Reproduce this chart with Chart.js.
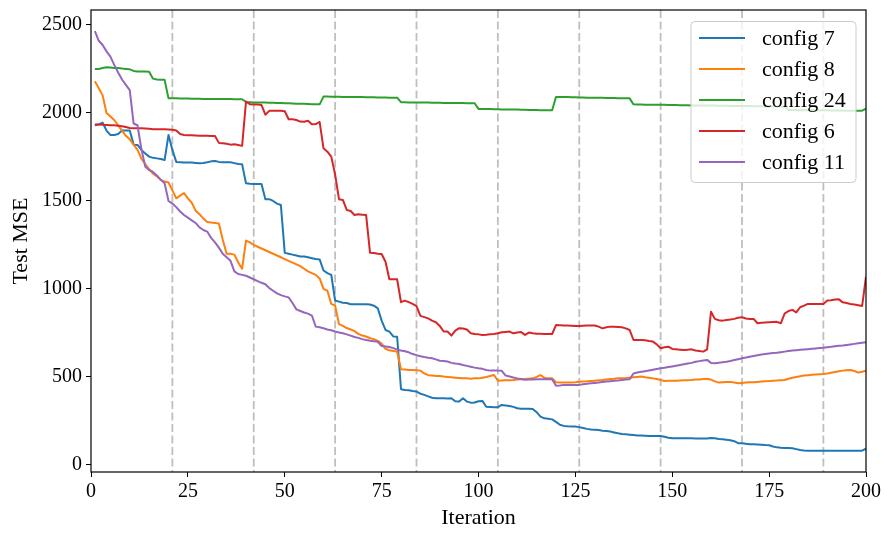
<!DOCTYPE html>
<html>
<head>
<meta charset="utf-8">
<script src="https://cdn.jsdelivr.net/npm/chart.js@4.4.1/dist/chart.umd.min.js"></script>
<style>
  html, body { margin: 0; padding: 0; background: #fff; }
  #wrap { width: 892px; height: 539px; }
</style>
</head>
<body>
<div id="wrap"><canvas id="chart" width="892" height="539"></canvas></div>
<script>
// Test MSE per iteration, 5 configs (iterations 1..200)
const seriesNames = ['config 7', 'config 8', 'config 24', 'config 6', 'config 11'];

const config7 = [
  1930, 1935, 1945, 1900, 1875, 1875, 1880, 1900, 1900, 1900,
  1820, 1818, 1790, 1770, 1752, 1745, 1742, 1738, 1733, 1875,
  1790, 1722, 1720, 1718, 1718, 1718, 1716, 1714, 1716, 1720,
  1725, 1727, 1722, 1720, 1720, 1720, 1715, 1710, 1708, 1600,
  1598, 1597, 1597, 1597, 1510, 1510, 1500, 1485, 1477, 1205,
  1200, 1195, 1190, 1184, 1184, 1180, 1175, 1170, 1168, 1105,
  1090, 1080, 934, 928, 922, 920, 913, 913, 913, 913,
  913, 912, 905, 890, 820, 767, 758, 730, 729, 430,
  426, 425, 420, 417, 405, 398, 390, 382, 379, 379,
  379, 378, 379, 362, 360, 379, 360, 354, 355, 362,
  364, 331, 330, 328, 328, 341, 338, 335, 330, 322,
  320, 320, 319, 318, 300, 275, 265, 262, 259, 245,
  228, 222, 220, 219, 218, 215, 210, 205, 202, 200,
  198, 195, 193, 190, 185, 180, 176, 174, 172, 170,
  168, 167, 166, 165, 165, 165, 165, 160, 155, 152,
  152, 152, 152, 152, 152, 151, 150, 150, 150, 153,
  152, 148, 146, 143, 140, 135, 124, 123, 120, 118,
  117, 116, 115, 113, 112, 105, 100, 98, 97, 96,
  95, 90, 85, 82, 81, 81, 81, 81, 81, 81,
  81, 81, 81, 81, 81, 81, 81, 81, 81, 93
];

const config8 = [
  2180, 2140, 2100, 2000, 1980, 1960, 1930, 1900, 1870, 1850,
  1820, 1790, 1740, 1710, 1680, 1655, 1640, 1620, 1610, 1605,
  1560, 1515, 1530, 1545, 1515, 1490, 1445, 1425, 1400, 1380,
  1377, 1375, 1372, 1280, 1200, 1200, 1195, 1150, 1115, 1275,
  1265, 1250, 1240, 1230, 1220, 1210, 1200, 1190, 1180, 1170,
  1160, 1150, 1140, 1130, 1115, 1100, 1090, 1080, 1060, 1000,
  990, 915, 905, 800, 790, 778, 770, 760, 745, 735,
  730, 720, 715, 705, 690, 660, 652, 648, 644, 544,
  542, 540, 540, 538, 536, 520, 510, 508, 506, 505,
  502, 500, 498, 496, 494, 492, 492, 490, 492, 492,
  496, 500, 505, 511, 479, 480, 481, 482, 483, 485,
  487, 488, 490, 492, 500, 511, 495, 492, 492, 470,
  468, 468, 468, 468, 470, 473, 474, 475, 477, 479,
  481, 483, 486, 489, 490, 492, 493, 494, 496, 498,
  500, 502, 498, 495, 492, 488, 483, 477, 478, 479,
  479, 480, 481, 482, 483, 485, 486, 488, 489, 485,
  475, 468, 470, 471, 472, 468, 464, 466, 468, 470,
  470, 472, 474, 476, 477, 479, 480, 482, 483, 490,
  496, 500, 504, 508, 510, 512, 514, 516, 517, 520,
  524, 528, 532, 536, 538, 540, 534, 525, 530, 536
];

const config24 = [
  2250, 2250, 2255, 2260, 2258, 2256, 2255, 2252, 2250, 2248,
  2239, 2236, 2235, 2235, 2234, 2195, 2190, 2189, 2188, 2083,
  2083, 2083, 2082, 2082, 2082, 2081, 2081, 2081, 2080, 2080,
  2080, 2080, 2079, 2079, 2079, 2079, 2078, 2078, 2078, 2062,
  2061, 2060, 2060, 2059, 2059, 2058, 2058, 2057, 2056, 2055,
  2055, 2054, 2053, 2053, 2052, 2051, 2050, 2050, 2049, 2093,
  2093, 2092, 2092, 2092, 2091, 2091, 2091, 2090, 2090, 2090,
  2089, 2089, 2089, 2088, 2088, 2088, 2087, 2087, 2087, 2061,
  2061, 2060, 2060, 2060, 2059, 2059, 2059, 2058, 2058, 2058,
  2057, 2057, 2057, 2056, 2056, 2056, 2055, 2055, 2055, 2023,
  2023, 2022, 2022, 2021, 2021, 2020, 2020, 2019, 2019, 2019,
  2018, 2018, 2017, 2017, 2017, 2016, 2016, 2015, 2015, 2091,
  2091, 2090, 2090, 2089, 2089, 2088, 2088, 2087, 2087, 2087,
  2086, 2086, 2085, 2085, 2085, 2084, 2084, 2083, 2083, 2049,
  2048, 2048, 2047, 2047, 2047, 2046, 2046, 2046, 2045, 2045,
  2045, 2044, 2044, 2044, 2043, 2043, 2043, 2042, 2042, 2042,
  2042, 2041, 2041, 2041, 2040, 2040, 2040, 2039, 2039, 2039,
  2038, 2038, 2038, 2037, 2037, 2037, 2036, 2036, 2036, 2017,
  2017, 2017, 2016, 2016, 2016, 2016, 2015, 2015, 2015, 2015,
  2014, 2014, 2014, 2014, 2013, 2013, 2013, 2013, 2013, 2025
];

const config6 = [
  1935, 1935, 1933, 1932, 1930, 1930, 1928, 1925, 1920, 1915,
  1913, 1913, 1913, 1912, 1910, 1908, 1907, 1907, 1907, 1906,
  1905, 1900, 1880, 1875, 1874, 1873, 1872, 1871, 1870, 1870,
  1869, 1869, 1830, 1828, 1825, 1820, 1822, 1818, 1813, 2065,
  2050, 2048, 2048, 2045, 1990, 2012, 2012, 2012, 2012, 2010,
  1964, 1964, 1960, 1951, 1950, 1956, 1936, 1937, 1949, 1799,
  1780, 1752, 1650, 1510, 1506, 1449, 1443, 1420, 1424, 1422,
  1420, 1206, 1204, 1200, 1199, 1155, 1055, 1055, 1055, 925,
  934, 925, 915, 903, 847, 840, 833, 820, 811, 790,
  758, 758, 735, 763, 777, 775, 770, 748, 744, 742,
  739, 740, 742, 744, 748, 754, 756, 758, 748, 752,
  755, 739, 752, 748, 746, 745, 744, 744, 744, 795,
  794, 792, 792, 791, 790, 790, 791, 792, 792, 792,
  786, 776, 782, 786, 785, 784, 782, 776, 767, 710,
  710, 710, 708, 704, 701, 685, 663, 669, 672, 659,
  657, 655, 653, 655, 657, 650, 648, 644, 657, 871,
  830, 822, 820, 824, 826, 830, 836, 839, 832, 830,
  830, 805, 808, 810, 811, 812, 813, 805, 860, 875,
  881, 867, 896, 905, 915, 915, 915, 915, 915, 934,
  936, 940, 941, 924, 920, 915, 912, 908, 903, 1070
];

const config11 = [
  2465, 2410, 2386, 2350, 2320, 2273, 2230, 2190, 2160, 2130,
  1940, 1930, 1795, 1695, 1676, 1665, 1645, 1620, 1600, 1500,
  1485, 1465, 1440, 1420, 1405, 1390, 1375, 1350, 1335, 1326,
  1290, 1265, 1235, 1200, 1180, 1160, 1100, 1085, 1080, 1075,
  1065, 1055, 1045, 1035, 1027, 1005, 990, 975, 965, 958,
  952, 920, 884, 875, 866, 860, 849, 786, 782, 777,
  770, 765, 758, 753, 748, 742, 735, 727, 722, 715,
  710, 706, 703, 700, 676, 673, 670, 664, 655, 650,
  646, 640, 630, 624, 618, 613, 609, 606, 600, 592,
  591, 588, 580, 576, 574, 568, 563, 558, 553, 549,
  546, 540, 536, 536, 536, 535, 508, 503, 497, 492,
  488, 484, 485, 486, 487, 487, 487, 487, 487, 450,
  452, 455, 455, 455, 455, 455, 458, 461, 464, 466,
  468, 471, 474, 476, 478, 480, 483, 485, 487, 520,
  525, 529, 533, 537, 541, 545, 549, 552, 556, 560,
  564, 568, 572, 576, 580, 586, 590, 594, 597, 580,
  578, 581, 584, 587, 591, 596, 601, 606, 610, 615,
  619, 623, 627, 630, 633, 636, 638, 641, 644, 647,
  650, 652, 654, 656, 658, 660, 662, 664, 666, 669,
  671, 674, 677, 679, 682, 685, 688, 691, 694, 697
];

const iterations = config7.map((_, k) => k + 1);
const restartIters = [21, 42, 63, 84, 105, 126, 147, 168, 189];
const xTicks = [0, 25, 50, 75, 100, 125, 150, 175, 200];
const yTicks = [0, 500, 1000, 1500, 2000, 2500];

const allSeries = [config7, config8, config24, config6, config11];
const colors = ['#1f77b4', '#ff7f0e', '#2ca02c', '#d62728', '#9467bd'];
const FONT = "'Liberation Serif', 'DejaVu Serif', serif";

// вертикальные пунктирные линии (рестарты)
const restartLines = {
    id: 'restartLines',
    beforeDatasetsDraw(chart) {
        const { ctx, chartArea, scales } = chart;
        ctx.save();
        ctx.strokeStyle = 'rgba(128,128,128,0.5)';
        ctx.lineWidth = 1.8;
        ctx.setLineDash([8, 3.5]);
        restartIters.forEach(it => {
            const x = scales.x.getPixelForValue(it);
            ctx.beginPath();
            ctx.moveTo(x, chartArea.top);
            ctx.lineTo(x, chartArea.bottom);
            ctx.stroke();
        });
        ctx.restore();
    }
};

// рамка вокруг области графика + легенда в стиле matplotlib
const frameAndLegend = {
    id: 'frameAndLegend',
    afterDatasetsDraw(chart) {
        const { ctx, chartArea } = chart;
        ctx.save();
        ctx.strokeStyle = '#000';
        ctx.lineWidth = 1.2;
        ctx.strokeRect(chartArea.left, chartArea.top,
            chartArea.right - chartArea.left, chartArea.bottom - chartArea.top);

        const w = 165, h = 161;
        const x0 = chartArea.right - 10 - w;
        const y0 = chartArea.top + 11.5;
        ctx.beginPath();
        ctx.roundRect(x0, y0, w, h, 4);
        ctx.fillStyle = 'rgba(255,255,255,0.8)';
        ctx.fill();
        ctx.strokeStyle = '#cccccc';
        ctx.lineWidth = 1;
        ctx.stroke();

        ctx.font = '22px ' + FONT;
        ctx.textBaseline = 'middle';
        ctx.fillStyle = '#000';
        chart.data.datasets.forEach((ds, i) => {
            const yy = y0 + 16.5 + i * 31;
            ctx.beginPath();
            ctx.strokeStyle = ds.borderColor;
            ctx.lineWidth = 2;
            ctx.moveTo(x0 + 8, yy);
            ctx.lineTo(x0 + 54, yy);
            ctx.stroke();
            ctx.fillText(ds.label, x0 + 71, yy + 1);
        });
        ctx.restore();
    }
};

const datasets = allSeries.map((vals, i) => ({
    label: seriesNames[i],
    data: vals.map((v, k) => ({ x: iterations[k], y: v })),
    borderColor: colors[i],
    borderWidth: 2,
    pointRadius: 0,
    tension: 0,
    borderJoinStyle: 'round',
    order: allSeries.length - i
}));

new Chart(document.getElementById('chart'), {
    type: 'line',
    data: { datasets: datasets },
    options: {
        responsive: false,
        devicePixelRatio: 1,
        animation: false,
        layout: { padding: { left: 0, right: 26, top: 10, bottom: 0 } },
        plugins: {
            legend: { display: false },
            tooltip: { enabled: false }
        },
        scales: {
            x: {
                type: 'linear',
                min: 0,
                max: 200,
                afterBuildTicks: s => { s.ticks = xTicks.map(v => ({ value: v })); },
                afterFit: s => { s.height = 67; s.paddingLeft = 0; s.paddingRight = 0; },
                grid: { drawOnChartArea: false, drawTicks: true, tickLength: 5, tickColor: '#000', tickWidth: 1 },
                border: { display: false },
                ticks: { color: '#000', font: { family: FONT, size: 20 }, padding: 3, maxRotation: 0,
                         callback: v => String(v) },
                title: { display: true, text: 'Iteration', color: '#000', font: { family: FONT, size: 22 }, padding: { top: 0, bottom: 8 } }
            },
            y: {
                min: -40,
                max: 2585,
                afterBuildTicks: s => { s.ticks = yTicks.map(v => ({ value: v })); },
                afterFit: s => { s.width = 91; s.paddingTop = 0; s.paddingBottom = 0; },
                grid: { drawOnChartArea: false, drawTicks: true, tickLength: 5, tickColor: '#000', tickWidth: 1 },
                border: { display: false },
                ticks: { color: '#000', font: { family: FONT, size: 20 }, padding: 4,
                         callback: v => String(v) },
                title: { display: true, text: 'Test MSE', color: '#000', font: { family: FONT, size: 22 }, padding: { top: 8, bottom: 0 } }
            }
        }
    },
    plugins: [restartLines, frameAndLegend]
});
</script>
</body>
</html>
